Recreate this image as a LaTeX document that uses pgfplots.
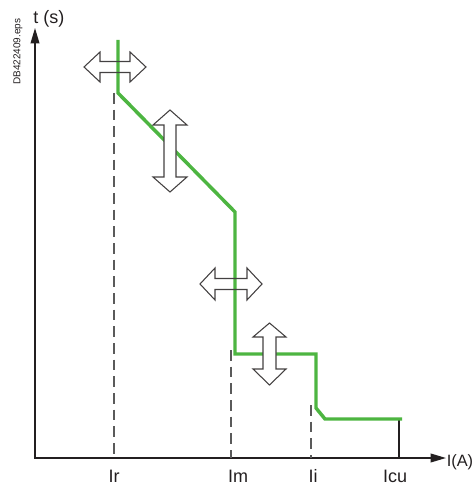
\documentclass[border=0pt]{standalone}
\usepackage{pgfplots}
\pgfplotsset{compat=1.18}
\usepackage{fontspec}
\setmainfont{Liberation Sans}
\usetikzlibrary{arrows.meta}
\definecolor{curvegreen}{RGB}{77,181,65}
\definecolor{axisgray}{RGB}{35,31,32}
\definecolor{dashgray}{RGB}{90,90,90}
\begin{document}
\begin{tikzpicture}
\useasboundingbox (0,0) rectangle (355.5pt,363pt);
\begin{axis}[
  hide axis,
  x=0.75pt, y=0.75pt,
  xmin=0, xmax=474, ymin=0, ymax=484,
  y dir=reverse,
  clip=false,
  anchor=south west, at={(0,0)},
  scale only axis,
]
% axes
\draw[axisgray, line width=1.2pt, -{Triangle[length=11.5pt,width=6.5pt]}] (axis cs:35,458) -- (axis cs:35,28);
\draw[axisgray, line width=1.2pt, -{Triangle[length=11.5pt,width=6.5pt]}] (axis cs:34.4,458) -- (axis cs:446,458);
% dashed guide lines
\addplot[dashgray, line width=0.8pt, dash pattern=on 8pt off 4.5pt] coordinates {(114,93) (114,458)};
\addplot[dashgray, line width=0.8pt, dash pattern=on 8pt off 4.5pt] coordinates {(231,350) (231,458)};
\addplot[dashgray, line width=0.8pt, dash pattern=on 8pt off 4.5pt] coordinates {(311,405) (311,458)};
\addplot[axisgray, line width=0.8pt] coordinates {(399,419) (399,458)};
% horizontal arrows: fill first
\fill[white] (axis cs:84,67) -- (axis cs:100,52) -- (axis cs:100,61.5) -- (axis cs:130,61.5) -- (axis cs:130,52) -- (axis cs:146,67) -- (axis cs:130,82) -- (axis cs:130,72.5) -- (axis cs:100,72.5) -- (axis cs:100,82) -- cycle;
\fill[white] (axis cs:200,284) -- (axis cs:215,268) -- (axis cs:215,278.5) -- (axis cs:247,278.5) -- (axis cs:247,268) -- (axis cs:262,284) -- (axis cs:247,300) -- (axis cs:247,289.5) -- (axis cs:215,289.5) -- (axis cs:215,300) -- cycle;
% trip curve
\addplot[curvegreen, line width=2.6pt, line join=miter] coordinates {
(118,40) (118,93) (235,212) (235,354) (316,354) (316,408) (325,419) (402,419)};
% horizontal arrows outline
\draw[axisgray!85, line width=0.8pt, line join=miter] (axis cs:84,67) -- (axis cs:100,52) -- (axis cs:100,61.5) -- (axis cs:130,61.5) -- (axis cs:130,52) -- (axis cs:146,67) -- (axis cs:130,82) -- (axis cs:130,72.5) -- (axis cs:100,72.5) -- (axis cs:100,82) -- cycle;
\draw[axisgray!85, line width=0.8pt, line join=miter] (axis cs:200,284) -- (axis cs:215,268) -- (axis cs:215,278.5) -- (axis cs:247,278.5) -- (axis cs:247,268) -- (axis cs:262,284) -- (axis cs:247,300) -- (axis cs:247,289.5) -- (axis cs:215,289.5) -- (axis cs:215,300) -- cycle;
% vertical arrows (opaque)
\filldraw[fill=white, draw=axisgray!85, line width=0.8pt, line join=miter] (axis cs:170,110) -- (axis cs:187,125) -- (axis cs:176,125) -- (axis cs:176,177) -- (axis cs:187,177) -- (axis cs:170,192) -- (axis cs:153,177) -- (axis cs:164,177) -- (axis cs:164,125) -- (axis cs:153,125) -- cycle;
\filldraw[fill=white, draw=axisgray!85, line width=0.8pt, line join=miter] (axis cs:269.5,323) -- (axis cs:286,337) -- (axis cs:276,337) -- (axis cs:276,369) -- (axis cs:286,369) -- (axis cs:269.5,385) -- (axis cs:253,369) -- (axis cs:263,369) -- (axis cs:263,337) -- (axis cs:253,337) -- cycle;
% labels
\node[anchor=base, inner sep=0pt, font=\fontsize{13.5}{16}\selectfont, text=axisgray] at (axis cs:114,482) {Ir};
\node[anchor=base, inner sep=0pt, font=\fontsize{13.5}{16}\selectfont, text=axisgray] at (axis cs:238,482) {Im};
\node[anchor=base, inner sep=0pt, font=\fontsize{13.5}{16}\selectfont, text=axisgray] at (axis cs:313,482) {Ii};
\node[anchor=base, inner sep=0pt, font=\fontsize{13.5}{16}\selectfont, text=axisgray] at (axis cs:395,482) {Icu};
\node[anchor=base west, inner sep=0pt, font=\fontsize{13.5}{16}\selectfont, text=axisgray] at (axis cs:33,24) {t (s)};
\node[anchor=base west, inner sep=0pt, font=\fontsize{12.3}{15}\selectfont, text=axisgray] at (axis cs:446.5,466) {I(A)};
\node[rotate=90, anchor=base west, inner sep=0pt, font=\fontsize{7.5}{9}\selectfont, text=axisgray] at (axis cs:20.5,85) {DB422409.eps};
\end{axis}
\end{tikzpicture}
\end{document}
